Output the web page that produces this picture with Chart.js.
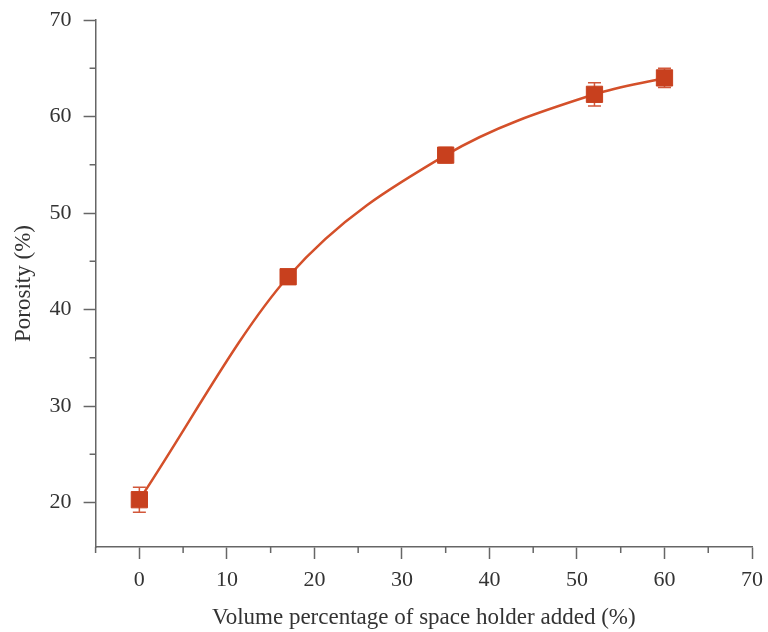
<!DOCTYPE html>
<html>
<head>
<meta charset="utf-8">
<script src="https://cdn.jsdelivr.net/npm/chart.js@4"></script>
<style>
  body { margin: 0; background: #fff; }
  #wrap { width: 768px; height: 632px; }
</style>
</head>
<body>
<div id="wrap"><canvas id="porosityChart"></canvas></div>
<script>
// data
const spaceHolder = [0, 17, 35, 52, 60];
const porosity = [20.3, 43.4, 56.0, 62.3, 64.0];
const porosityErr = [1.3, 0.5, 0.8, 1.2, 1.0];
const xMinorTicks = [-5, 5, 15, 25, 35, 45, 55, 65];
const yMinorTicks = [25, 35, 45, 55, 65];

const markerColor = '#C8401E';
const lineColor = '#D4502A';
const axisColor = '#666';

// error bars (behind the markers) + minor ticks, placed through the chart scales
const extras = {
    id: 'extras',
    beforeDatasetsDraw(chart) {
        const ctx = chart.ctx;
        const xs = chart.scales.x, ys = chart.scales.y;
        ctx.save();
        ctx.strokeStyle = '#D2573A';
        ctx.lineWidth = 1.5;
        spaceHolder.forEach(function(v, i) {
            const px = xs.getPixelForValue(v);
            const top = ys.getPixelForValue(porosity[i] + porosityErr[i]);
            const bot = ys.getPixelForValue(porosity[i] - porosityErr[i]);
            ctx.beginPath();
            ctx.moveTo(px, top); ctx.lineTo(px, bot);
            ctx.moveTo(px - 6.5, top); ctx.lineTo(px + 6.5, top);
            ctx.moveTo(px - 6.5, bot); ctx.lineTo(px + 6.5, bot);
            ctx.stroke();
        });
        ctx.restore();
    },
    afterDraw(chart) {
        const ctx = chart.ctx;
        const xs = chart.scales.x, ys = chart.scales.y;
        const area = chart.chartArea;
        ctx.save();
        ctx.strokeStyle = axisColor;
        ctx.lineWidth = 1.5;
        ctx.beginPath();
        xMinorTicks.forEach(function(v) {
            const px = xs.getPixelForValue(v);
            ctx.moveTo(px, area.bottom); ctx.lineTo(px, area.bottom + 6);
        });
        yMinorTicks.forEach(function(v) {
            const py = ys.getPixelForValue(v);
            ctx.moveTo(area.left, py); ctx.lineTo(area.left - 6, py);
        });
        ctx.stroke();
        ctx.restore();
    }
};

const ctx = document.getElementById('porosityChart').getContext('2d');
new Chart(ctx, {
    type: 'line',
    data: {
        labels: spaceHolder,
        datasets: [{
            data: spaceHolder.map((x, i) => ({ x: x, y: porosity[i] })),
            borderColor: lineColor,
            borderWidth: 2.5,
            cubicInterpolationMode: 'monotone',
            pointStyle: 'rect',
            pointRadius: 11.5,
            pointBackgroundColor: markerColor,
            pointBorderColor: markerColor,
            pointBorderWidth: 1
        }]
    },
    plugins: [extras],
    options: {
        responsive: true,
        maintainAspectRatio: false,
        animation: false,
        layout: { padding: { top: 20, right: 16, left: 10, bottom: 0 } },
        plugins: { legend: { display: false }, tooltip: { enabled: false } },
        scales: {
            x: {
                type: 'linear',
                min: -5, max: 70,
                afterFit: function(scale) { scale.paddingRight = 0; },
                grid: { drawOnChartArea: false, tickLength: 12, tickColor: axisColor, tickWidth: 1.5 },
                border: { color: axisColor, width: 1.5 },
                ticks: { stepSize: 10, includeBounds: false, padding: 8, color: '#333',
                         font: { family: 'Liberation Serif', size: 22 } },
                title: { display: true, text: 'Volume percentage of space holder added (%)', color: '#333',
                         font: { family: 'Liberation Serif', size: 23 }, padding: { top: 3, bottom: 0 } }
            },
            y: {
                min: 15.4, max: 70,
                afterFit: function(scale) { scale.paddingTop = 0; scale.paddingBottom = 0; },
                grid: { drawOnChartArea: false, tickLength: 12, tickColor: axisColor, tickWidth: 1.5 },
                border: { color: axisColor, width: 1.5 },
                ticks: { stepSize: 10, includeBounds: false, padding: 12, color: '#333',
                         font: { family: 'Liberation Serif', size: 22 } },
                title: { display: true, text: 'Porosity (%)', color: '#333',
                         font: { family: 'Liberation Serif', size: 23 }, padding: { top: 0, bottom: 0 } }
            }
        }
    }
});
</script>
</body>
</html>
